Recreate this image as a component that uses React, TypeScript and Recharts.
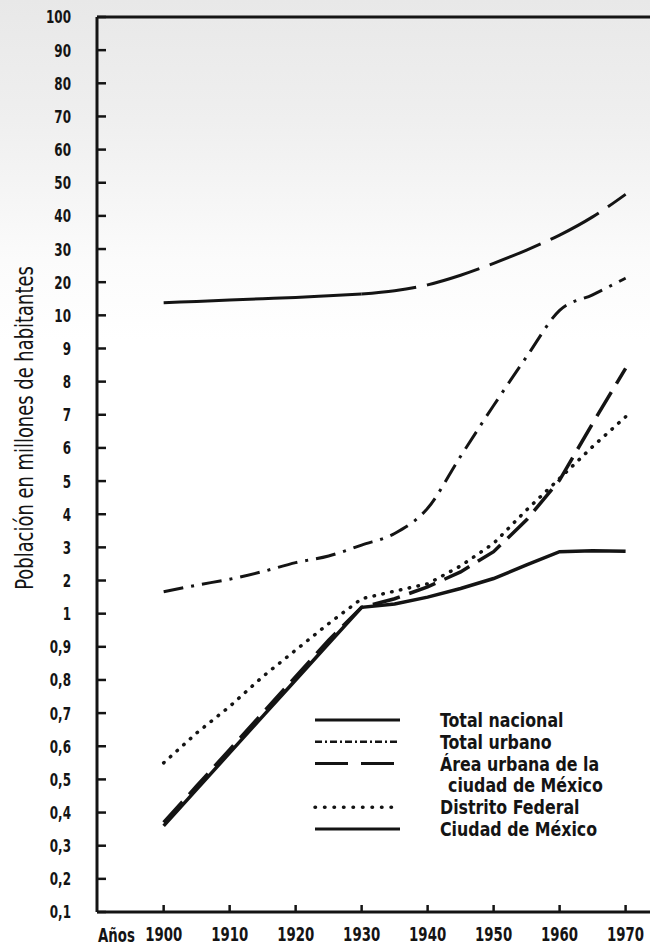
import React from "react";
import { LineChart, Line, XAxis, YAxis, Legend } from "recharts";

const YEARS = [1900, 1905, 1910, 1915, 1920, 1925, 1930, 1935, 1940, 1945, 1950, 1955, 1960, 1965, 1970];
const DECADES = [1900, 1910, 1920, 1930, 1940, 1950, 1960, 1970];

// millones de habitantes
const TOTAL_NACIONAL = [13.8, 14.2, 14.6, 15.0, 15.4, 15.9, 16.4, 17.4, 19.2, 22.1, 25.7, 29.7, 34.2, 39.7, 46.5];
const TOTAL_URBANO = [1.66, 1.86, 2.04, 2.27, 2.54, 2.74, 3.07, 3.42, 4.18, 5.75, 7.28, 8.75, 11.5, 16.2, 21.2];
const AREA_URBANA = [0.37, 0.48, 0.59, 0.7, 0.81, 0.92, 1.19, 1.45, 1.81, 2.26, 2.87, 3.83, 5.03, 6.74, 8.4];
const DISTRITO_FEDERAL = [0.55, 0.64, 0.72, 0.81, 0.89, 0.97, 1.45, 1.68, 1.9, 2.44, 3.12, 4.13, 5.08, 6.04, 6.94];
const CIUDAD_MEXICO = [0.36, 0.47, 0.58, 0.69, 0.8, 0.91, 1.19, 1.29, 1.5, 1.76, 2.06, 2.47, 2.87, 2.9, 2.88];

const Y_TICK_VALUES = [
  0.1, 0.2, 0.3, 0.4, 0.5, 0.6, 0.7, 0.8, 0.9,
  1, 2, 3, 4, 5, 6, 7, 8, 9,
  10, 20, 30, 40, 50, 60, 70, 80, 90, 100,
];
const Y_TICK_LABELS = [
  "0,1", "0,2", "0,3", "0,4", "0,5", "0,6", "0,7", "0,8", "0,9",
  "1", "2", "3", "4", "5", "6", "7", "8", "9",
  "10", "20", "30", "40", "50", "60", "70", "80", "90", "100",
];

// the original axis gives every tick the same space: 0,1-1 / 1-10 / 10-100 are linear pieces
const toScale = (v: number) => {
  if (v < 1) return (v - 0.1) / 0.1;
  if (v < 10) return 9 + (v - 1);
  return 18 + (v - 10) / 10;
};

const data = YEARS.map((year, i) => ({
  year,
  nacionalA: year <= 1930 ? toScale(TOTAL_NACIONAL[i]) : null,
  nacionalB: year >= 1930 ? toScale(TOTAL_NACIONAL[i]) : null,
  urbano: toScale(TOTAL_URBANO[i]),
  area: toScale(AREA_URBANA[i]),
  df: toScale(DISTRITO_FEDERAL[i]),
  ciudad: toScale(CIUDAD_MEXICO[i]),
}));

const INK = "#141414";
const FONT = "'DejaVu Sans Condensed', 'DejaVu Sans', sans-serif";

// no narrow font on the box, so squeeze the condensed one sideways
function YTick(props: any) {
  const { x, y, payload } = props;
  return (
    <g transform={`translate(${x},${y})`}>
      <text transform="scale(0.74,1)" textAnchor="end" dy="0.36em" fontFamily={FONT} fontWeight="bold" fontSize={18} fill={INK}>
        {Y_TICK_LABELS[Math.round(payload.value)]}
      </text>
    </g>
  );
}

function XTick(props: any) {
  const { x, y, payload } = props;
  return (
    <g transform={`translate(${x},${y})`}>
      <text transform="scale(0.74,1)" textAnchor="middle" dy="0.71em" fontFamily={FONT} fontWeight="bold" fontSize={20} fill={INK}>
        {payload.value}
      </text>
    </g>
  );
}

const LEGEND_ITEMS = [
  { label: ["Total nacional"], dash: undefined, width: 3, cap: "butt" },
  { label: ["Total urbano"], dash: "7 3 2 3", width: 2.5, cap: "butt" },
  { label: ["Área urbana de la", "ciudad de México"], dash: "33 13", width: 3, cap: "butt" },
  { label: ["Distrito Federal"], dash: "0.5 9", width: 3.5, cap: "round" },
  { label: ["Ciudad de México"], dash: undefined, width: 3, cap: "butt" },
];

function LegendBox() {
  let row = 0;
  return (
    <svg width={340} height={150} style={{ display: "block" }}>
      {LEGEND_ITEMS.map((item, i) => {
        const top = row;
        row += item.label.length;
        const lineY = 20 + top * 21.8;
        return (
          <g key={i}>
            <line
              x1={5}
              x2={90}
              y1={lineY}
              y2={lineY}
              stroke={INK}
              strokeWidth={item.width}
              strokeDasharray={item.dash}
              strokeLinecap={item.cap as any}
            />
            {item.label.map((t, j) => (
              <g key={j} transform={`translate(${j === 0 ? 130 : 138},${27 + (top + j) * 21.8})`}>
                <text transform="scale(0.88,1)" fontFamily={FONT} fontWeight="bold" fontSize={20} fill={INK}>
                  {t}
                </text>
              </g>
            ))}
          </g>
        );
      })}
    </svg>
  );
}

export default function App() {
  return (
    <div
      style={{
        position: "absolute",
        left: 0,
        top: 0,
        width: 650,
        height: 949,
        overflow: "hidden",
        background: "linear-gradient(#e8e8e8 0px, #efefef 120px, #fbfbfb 260px, #ffffff 340px)",
      }}
    >
      <LineChart width={670} height={949} data={data} margin={{ top: 0, right: 0, bottom: 0, left: 0 }}>
        <XAxis
          xAxisId="bottom"
          dataKey="year"
          type="number"
          domain={[1889.9, 1974]}
          ticks={DECADES}
          height={37}
          axisLine={{ stroke: INK, strokeWidth: 3 }}
          tickLine={{ stroke: INK, strokeWidth: 2.5 }}
          tickSize={-7}
          tickMargin={22}
          tick={<XTick />}
          label={(props: any) => {
            const vb = props.viewBox;
            return (
              <g transform={`translate(${vb.x + 1},${vb.y + 30})`}>
                <text transform="scale(0.74,1)" fontFamily={FONT} fontWeight="bold" fontSize={20} fill={INK}>
                  Años
                </text>
              </g>
            );
          }}
        />
        <XAxis
          xAxisId="top"
          orientation="top"
          dataKey="year"
          type="number"
          domain={[1889.9, 1974]}
          ticks={DECADES}
          height={17}
          axisLine={{ stroke: INK, strokeWidth: 3 }}
          tickLine={{ stroke: INK, strokeWidth: 2.5 }}
          tickSize={-8}
          tick={false}
        />
        <YAxis
          yAxisId="left"
          type="number"
          domain={[0, 27]}
          ticks={Y_TICK_VALUES.map(toScale)}
          interval={0}
          width={97}
          axisLine={{ stroke: INK, strokeWidth: 3 }}
          tickLine={{ stroke: INK, strokeWidth: 2.5 }}
          tickSize={-9}
          tickMargin={35}
          tick={<YTick />}
          label={(props: any) => {
            const vb = props.viewBox;
            const cx = vb.x + 33;
            const cy = 428;
            return (
              <g transform={`translate(${cx},${cy}) rotate(-90)`}>
                <text transform="scale(0.83,1)" textAnchor="middle" fontFamily={FONT} fontSize={24} fill={INK}>
                  Población en millones de habitantes
                </text>
              </g>
            );
          }}
        />
        <YAxis
          yAxisId="right"
          orientation="right"
          type="number"
          domain={[0, 27]}
          ticks={Y_TICK_VALUES.map(toScale)}
          interval={0}
          width={18}
          axisLine={{ stroke: INK, strokeWidth: 3 }}
          tickLine={{ stroke: INK, strokeWidth: 3 }}
          tickSize={-7}
          tick={false}
        />
        <Legend
          layout="vertical"
          align="center"
          verticalAlign="middle"
          wrapperStyle={{ left: 310, top: 700, width: 340, height: 150 }}
          content={() => <LegendBox />}
        />
        <Line xAxisId="bottom" yAxisId="left" type="monotone" dataKey="nacionalA" stroke={INK} strokeWidth={3} dot={false} connectNulls={false} isAnimationActive={false} />
        <Line xAxisId="bottom" yAxisId="left" type="monotone" dataKey="nacionalB" stroke={INK} strokeWidth={3} strokeDasharray="55 11" dot={false} connectNulls={false} isAnimationActive={false} />
        <Line xAxisId="bottom" yAxisId="left" type="monotone" dataKey="urbano" stroke={INK} strokeWidth={3} strokeDasharray="20 8 3 8" dot={false} isAnimationActive={false} />
        <Line xAxisId="bottom" yAxisId="left" type="linear" dataKey="area" stroke={INK} strokeWidth={3.5} strokeDasharray="28 10" dot={false} isAnimationActive={false} />
        <Line xAxisId="bottom" yAxisId="left" type="linear" dataKey="df" stroke={INK} strokeWidth={3.5} strokeDasharray="0.5 8.5" strokeLinecap="round" dot={false} isAnimationActive={false} />
        <Line xAxisId="bottom" yAxisId="left" type="linear" dataKey="ciudad" stroke={INK} strokeWidth={3.5} dot={false} isAnimationActive={false} />
      </LineChart>
    </div>
  );
}
